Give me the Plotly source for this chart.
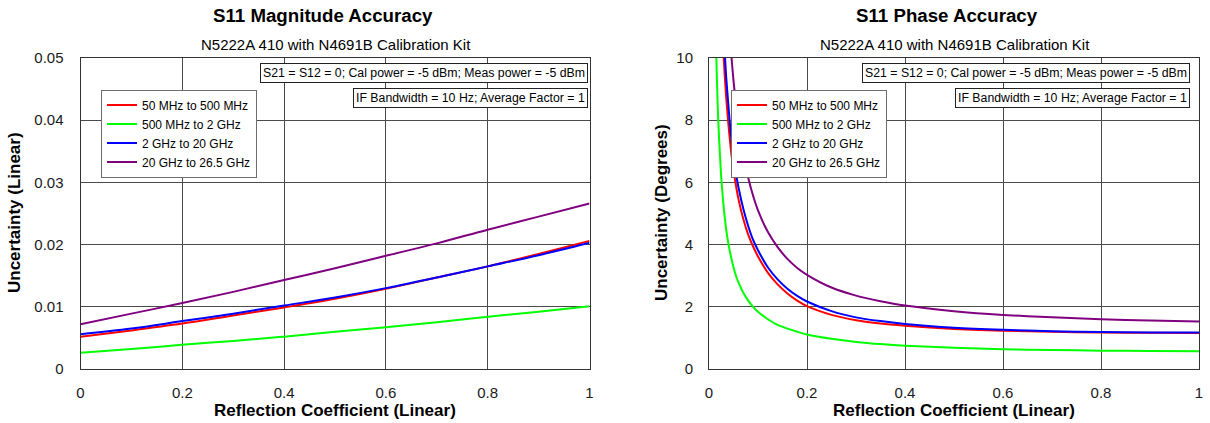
import plotly.graph_objects as go

# ---------------- data ----------------
series_names = ["50 MHz to 500 MHz", "500 MHz to 2 GHz", "2 GHz to 20 GHz", "20 GHz to 26.5 GHz"]
series_colors = ["#ff0000", "#00ff00", "#0000ff", "#800080"]

# Magnitude accuracy (left)
mag_x = [0.0, 0.1, 0.2, 0.3, 0.4, 0.5, 0.6, 0.7, 0.8, 0.9, 1.0]
mag_red = [0.0052, 0.0062, 0.0073, 0.0086, 0.0099, 0.0113, 0.0129, 0.0147, 0.0165, 0.0185, 0.0206]
mag_green = [0.0026, 0.0032, 0.0039, 0.0045, 0.0052, 0.0060, 0.0067, 0.0075, 0.0084, 0.0092, 0.0101]
mag_blue = [0.0056, 0.0065, 0.0077, 0.0089, 0.0102, 0.0115, 0.0130, 0.0147, 0.0165, 0.0183, 0.0203]
mag_purple = [0.0072, 0.0089, 0.0106, 0.0124, 0.0143, 0.0162, 0.0182, 0.0202, 0.0224, 0.0245, 0.0266]

# Phase accuracy (right)
ph_x_red = [0.025, 0.03, 0.035, 0.04, 0.045, 0.05, 0.055, 0.06, 0.07, 0.08, 0.09, 0.1, 0.12, 0.14,
            0.16, 0.18, 0.2, 0.25, 0.3, 0.35, 0.4, 0.5, 0.6, 0.7, 0.8, 0.9, 1.0]
ph_red = [12.0, 10.0, 8.75, 7.8, 7.0, 6.4, 5.9, 5.47, 4.82, 4.32, 3.94, 3.62, 3.1, 2.72,
          2.43, 2.2, 2.02, 1.74, 1.57, 1.46, 1.39, 1.29, 1.23, 1.195, 1.175, 1.165, 1.16]

ph_x_green = [0.01, 0.0125, 0.015, 0.0175, 0.02, 0.025, 0.03, 0.035, 0.04, 0.045, 0.05, 0.055, 0.06,
              0.07, 0.08, 0.09, 0.1, 0.12, 0.14, 0.16, 0.18, 0.2, 0.25, 0.3, 0.35, 0.4, 0.5, 0.6,
              0.7, 0.8, 0.9, 1.0]
ph_green = [14.8, 12.0, 10.0, 8.6, 7.6, 6.15, 5.19, 4.5, 3.99, 3.6, 3.27, 3.0, 2.79,
            2.45, 2.2, 2.0, 1.84, 1.6, 1.42, 1.3, 1.2, 1.11, 0.97, 0.87, 0.8, 0.75, 0.68, 0.635,
            0.61, 0.59, 0.578, 0.57]

ph_x_blue = [0.025, 0.03, 0.035, 0.04, 0.045, 0.05, 0.055, 0.06, 0.07, 0.08, 0.09, 0.1, 0.12, 0.14,
             0.16, 0.18, 0.2, 0.25, 0.3, 0.35, 0.4, 0.5, 0.6, 0.7, 0.8, 0.9, 1.0]
ph_blue = [13.0, 10.8, 9.4, 8.4, 7.5, 6.85, 6.3, 5.85, 5.15, 4.6, 4.15, 3.82, 3.27, 2.88,
           2.58, 2.35, 2.17, 1.86, 1.66, 1.54, 1.45, 1.33, 1.26, 1.215, 1.19, 1.175, 1.17]

ph_x_purple = [0.035, 0.04, 0.045, 0.05, 0.055, 0.06, 0.07, 0.08, 0.09, 0.1, 0.12, 0.14, 0.16, 0.18,
               0.2, 0.25, 0.3, 0.35, 0.4, 0.5, 0.6, 0.7, 0.8, 0.9, 1.0]
ph_purple = [12.85, 11.36, 10.2, 9.27, 8.52, 7.88, 6.9, 6.15, 5.57, 5.1, 4.41, 3.92, 3.54, 3.25,
             3.03, 2.62, 2.36, 2.18, 2.04, 1.86, 1.74, 1.66, 1.6, 1.56, 1.53]

mag_ticks = [0, 0.01, 0.02, 0.03, 0.04, 0.05]
mag_ticktext = ["0", "0.01", "0.02", "0.03", "0.04", "0.05"]
ph_ticks = [0, 2, 4, 6, 8, 10]
x_ticks = [0, 0.2, 0.4, 0.6, 0.8, 1.0]
x_ticktext = ["0", "0.2", "0.4", "0.6", "0.8", "1"]

titles = ["S11 Magnitude Accuracy", "S11 Phase Accuracy"]
subtitle = "N5222A 410 with N4691B Calibration Kit"
note1 = "S21 = S12 = 0; Cal power = -5 dBm; Meas power = -5 dBm"
note2 = "IF Bandwidth = 10 Hz; Average Factor = 1"
ytitles = ["Uncertainty (Linear)", "Uncertainty (Degrees)"]
xtitle = "Reflection Coefficient (Linear)"

# ---------------- layout geometry ----------------
W, H = 1210, 423
FONT = "Liberation Sans, Arial, sans-serif"

def px(x):
    return x / W

def py(y):
    return 1 - y / H

left_dom = [px(80.5), px(589.5)]
right_dom = [px(709), px(1199)]
y_dom = [py(369), py(58)]

fig = go.Figure()

mag_series = [mag_red, mag_green, mag_blue, mag_purple]
for name, col, ys in zip(series_names, series_colors, mag_series):
    fig.add_trace(go.Scatter(x=mag_x, y=ys, mode="lines", name=name,
                             line=dict(color=col, width=2, shape="spline"),
                             xaxis="x", yaxis="y", legend="legend"))

ph_series = [(ph_x_red, ph_red), (ph_x_green, ph_green), (ph_x_blue, ph_blue), (ph_x_purple, ph_purple)]
for name, col, (xs, ys) in zip(series_names, series_colors, ph_series):
    fig.add_trace(go.Scatter(x=xs, y=ys, mode="lines", name=name,
                             line=dict(color=col, width=2, shape="spline", smoothing=0.6),
                             xaxis="x2", yaxis="y2", legend="legend2"))

axis_common = dict(showgrid=True, gridcolor="#4a4a4a", gridwidth=1, zeroline=False,
                   showline=True, linecolor="#333333", linewidth=1, mirror=True,
                   automargin=False,
                   ticks="", tickfont=dict(family=FONT, size=15, color="#1a1a1a"))

fig.update_layout(
    width=W, height=H,
    autosize=False,
    margin=dict(l=0, r=0, t=0, b=0, pad=0, autoexpand=False),
    paper_bgcolor="white", plot_bgcolor="white",
    font=dict(family=FONT, color="#000000"),
    xaxis=dict(domain=left_dom, range=[0, 1], tickvals=x_ticks, ticktext=x_ticktext,
               anchor="y", ticklabelstandoff=10, **axis_common),
    yaxis=dict(domain=y_dom, range=[0, 0.05], tickvals=mag_ticks, ticktext=mag_ticktext,
               anchor="x", ticklabelstandoff=13, **axis_common),
    xaxis2=dict(domain=right_dom, range=[0, 1], tickvals=x_ticks, ticktext=x_ticktext,
                anchor="y2", ticklabelstandoff=10, **axis_common),
    yaxis2=dict(domain=y_dom, range=[0, 10], tickvals=ph_ticks, anchor="x2",
                ticklabelstandoff=12, **axis_common),
    legend=dict(x=px(101), y=py(89.5), xanchor="left", yanchor="top",
                bordercolor="#6e6e6e", borderwidth=1, bgcolor="white",
                font=dict(family=FONT, size=12), tracegroupgap=0),
    legend2=dict(x=px(731), y=py(89.5), xanchor="left", yanchor="top",
                 bordercolor="#6e6e6e", borderwidth=1, bgcolor="white",
                 font=dict(family=FONT, size=12), tracegroupgap=0),
    showlegend=True,
)

annotations = []
title_centers = [px(322.8), px(947)]
sub_centers = [px(336), px(955)]
xt_centers = [(left_dom[0] + left_dom[1]) / 2, (right_dom[0] + right_dom[1]) / 2]
for tc, sc, xc, t in zip(title_centers, sub_centers, xt_centers, titles):
    annotations.append(dict(text="<b>" + t + "</b>", x=tc, y=py(15.5), xref="paper", yref="paper",
                            showarrow=False, xanchor="center", yanchor="middle",
                            font=dict(family=FONT, size=18.7)))
    annotations.append(dict(text=subtitle, x=sc, y=py(44), xref="paper", yref="paper",
                            showarrow=False, xanchor="center", yanchor="middle",
                            font=dict(family=FONT, size=15)))
    annotations.append(dict(text="<b>" + xtitle + "</b>", x=xc, y=py(410), xref="paper", yref="paper",
                            showarrow=False, xanchor="center", yanchor="middle",
                            font=dict(family=FONT, size=17)))

for xpos, t in zip([px(15), px(662)], ytitles):
    annotations.append(dict(text="<b>" + t + "</b>", x=xpos, y=py(213), xref="paper", yref="paper",
                            showarrow=False, xanchor="center", yanchor="middle", textangle=-90,
                            font=dict(family=FONT, size=17)))

for right_edge in [px(588), px(1190)]:
    annotations.append(dict(text=note1, x=right_edge, y=py(62.5), xref="paper", yref="paper",
                            showarrow=False, xanchor="right", yanchor="top",
                            bordercolor="#222222", borderwidth=1, borderpad=2, bgcolor="white",
                            font=dict(family=FONT, size=12.3)))
    annotations.append(dict(text=note2, x=right_edge, y=py(87.5), xref="paper", yref="paper",
                            showarrow=False, xanchor="right", yanchor="top",
                            bordercolor="#222222", borderwidth=1, borderpad=2, bgcolor="white",
                            font=dict(family=FONT, size=12.3)))

fig.update_layout(annotations=annotations)

fig.write_html("out.html", config={"displayModeBar": False},
               post_script="document.body.style.margin='0';")
